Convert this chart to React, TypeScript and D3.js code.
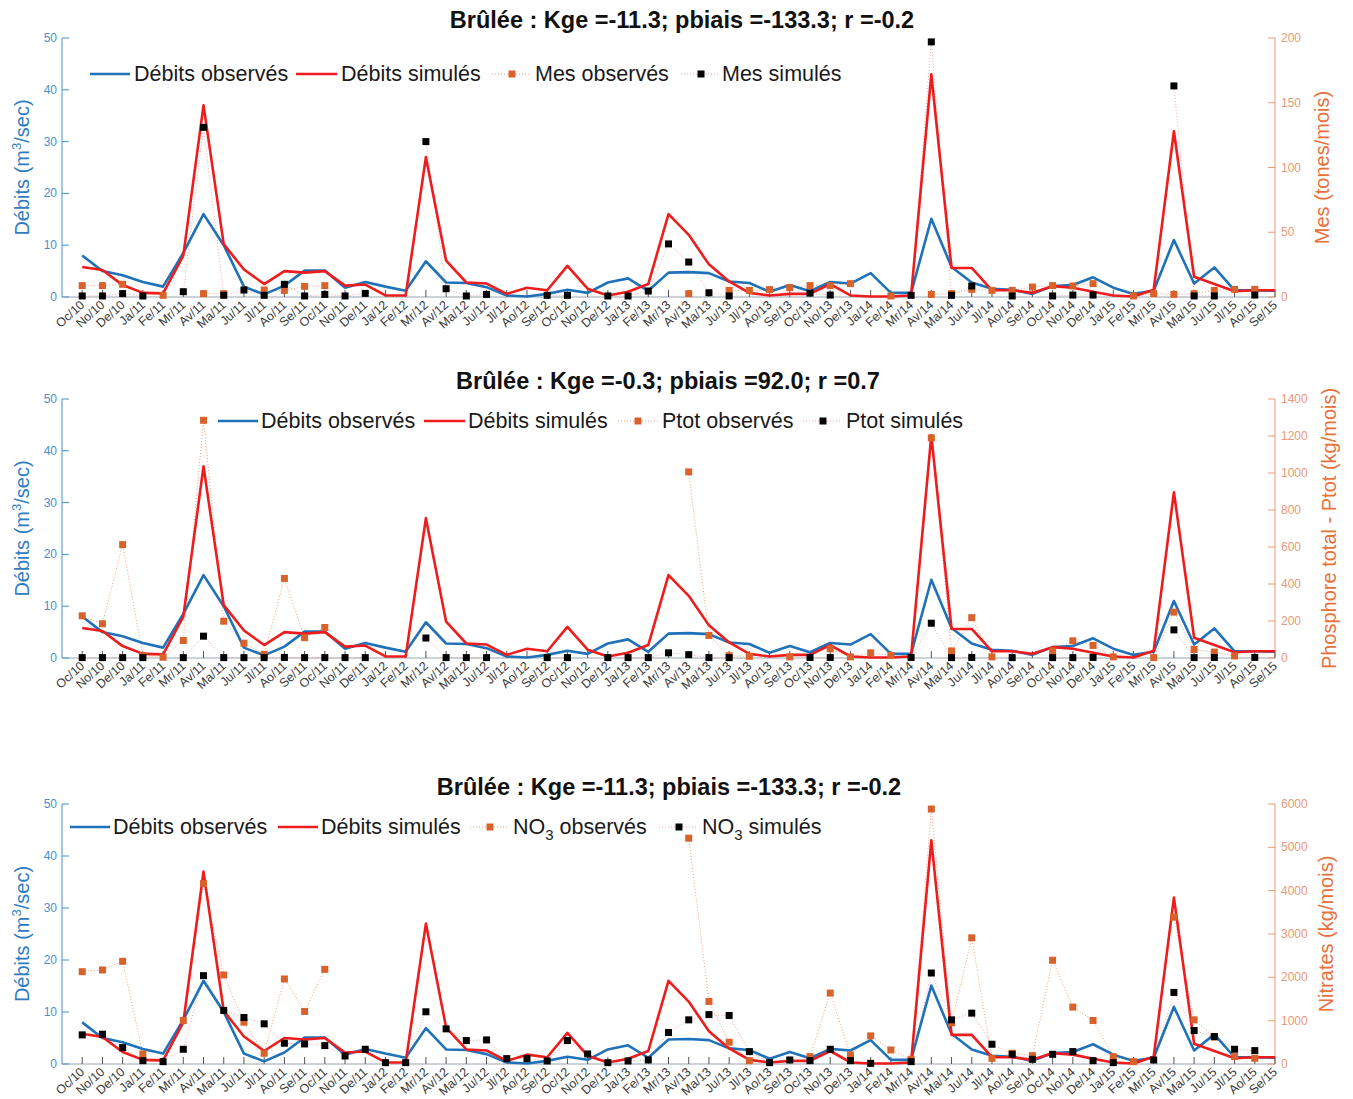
import React from 'react';
import * as d3 from 'd3';

const months = ['Oc/10','No/10','De/10','Ja/11','Fe/11','Mr/11','Av/11','Ma/11','Ju/11','Jl/11','Ao/11','Se/11','Oc/11','No/11','De/11','Ja/12','Fe/12','Mr/12','Av/12','Ma/12','Ju/12','Jl/12','Ao/12','Se/12','Oc/12','No/12','De/12','Ja/13','Fe/13','Mr/13','Av/13','Ma/13','Ju/13','Jl/13','Ao/13','Se/13','Oc/13','No/13','De/13','Ja/14','Fe/14','Mr/14','Av/14','Ma/14','Ju/14','Jl/14','Ao/14','Se/14','Oc/14','No/14','De/14','Ja/15','Fe/15','Mr/15','Av/15','Ma/15','Ju/15','Jl/15','Ao/15','Se/15'];

const debitsObserves = [8.0,5.0,4.2,2.9,2.0,8.5,16.0,10.0,2.0,0.5,2.2,5.1,5.1,1.8,2.9,2.0,1.2,6.9,2.8,2.7,1.9,0.3,0.1,0.6,1.4,0.8,2.8,3.6,1.2,4.7,4.8,4.6,3.0,2.7,1.0,2.3,1.1,2.9,2.6,4.6,0.8,0.8,15.1,5.8,2.8,1.6,1.4,0.6,2.1,2.3,3.8,1.8,0.6,1.2,11.0,2.6,5.7,1.3,1.3,1.2];
const debitsSimules = [5.8,5.2,2.3,0.8,0.7,8.0,37.0,10.2,5.3,2.5,5.0,4.7,5.0,2.2,2.4,0.3,0.3,27.0,7.0,2.8,2.6,0.6,1.8,1.3,6.0,1.6,0.3,1.0,2.5,16.0,12.0,6.3,3.0,0.8,0.3,0.6,0.6,2.5,0.3,0.1,0.1,0.3,43.0,5.6,5.6,1.3,1.3,0.8,2.1,1.8,1.0,0.3,0.1,1.4,32.0,3.9,2.5,1.1,1.3,1.3];

const N = null;
const mesObserves = [8.8,8.8,9.8,N,1.3,N,2.6,2.6,N,5.4,5.1,8.2,8.8,N,N,N,N,N,N,N,N,N,N,N,N,N,N,N,N,N,2.6,N,5.1,5.1,5.7,7.2,8.8,8.8,10.3,N,0.8,N,2.0,2.6,5.9,5.1,5.1,7.7,8.8,8.5,10.3,N,0.8,2.6,2.0,2.6,5.1,5.9,5.9,N];
const mesSimules = [0.8,0.8,2.6,0.8,N,4.1,131,1.3,5.4,1.3,9.8,0.8,2.0,0.8,2.8,N,N,120,6.4,0.8,2.0,N,N,1.3,1.3,N,0.8,0.8,4.6,41,27,3.3,0.8,N,N,N,3.0,1.5,N,N,N,1.3,197,1.3,8.5,N,0.8,N,0.8,1.5,1.5,N,N,N,163,0.8,0.8,N,1.5,N];
const ptotObserves = [228,185,613,13,4,95,1285,199,80,20,430,110,165,N,N,N,N,N,N,N,N,N,N,N,N,N,N,N,N,N,1006,122,12,9,N,6,N,50,6,28,14,N,1190,38,218,6,N,N,38,93,68,6,N,2,248,46,32,11,N,N];
const ptotSimules = [2,2,2,2,N,2,118,2,2,2,3,2,2,2,2,N,N,108,2,2,2,N,N,2,2,N,2,2,2,28,18,2,2,N,N,N,3,3,N,N,N,3,188,2,3,N,2,N,2,2,3,N,N,N,152,2,3,N,3,N];
const no3Observes = [2130,2170,2370,232,N,1004,4163,2054,965,247,1962,1213,2185,N,N,N,N,N,N,N,N,N,N,N,N,N,N,N,N,N,5212,1444,502,77,N,N,170,1637,208,649,324,108,5884,950,2911,131,247,193,2394,1313,1004,170,54,N,3390,1019,620,170,131,N];
const no3Simules = [672,687,378,77,54,340,2039,1236,1073,927,479,463,425,185,340,31,31,1205,811,541,556,124,124,70,541,232,31,70,93,726,1019,1140,1120,286,31,93,77,340,77,15,N,54,2100,1019,1174,456,224,108,224,286,77,31,N,93,1652,772,633,340,309,N];

const leftTicks = [0, 10, 20, 30, 40, 50];
const mesTicks = [0, 50, 100, 150, 200];
const ptotTicks = [0, 200, 400, 600, 800, 1000, 1200, 1400];
const no3Ticks = [0, 1000, 2000, 3000, 4000, 5000, 6000];
const titles = [
  'Brûlée : Kge =-11.3; pbiais =-133.3; r =-0.2',
  'Brûlée : Kge =-0.3; pbiais =92.0; r =0.7',
  'Brûlée : Kge =-11.3; pbiais =-133.3; r =-0.2',
];

const W = 1353, H = 1099;
const X0 = 62, X1 = 1275;
const BLUE = '#1f72b8';
const RED = '#ee1c1c';
const ORANGE = '#d9622b';
const LEFT_C = '#4a8fcb';
const RIGHT_C = '#e89a78';
const RIGHT_LABEL = '#e8703a';
const FONT = '"Liberation Sans", Arial, sans-serif';

type Panel = {
  top: number; bottom: number; titleY: number; titleX: number; title: string;
  rightTicks: number[]; obs: (number | null)[]; sim: (number | null)[];
  rightLabel: string; rightLabelX: number; species: string; sub?: string;
  legY: number; leg: number[];
};

const panels: Panel[] = [
  { top: 38, bottom: 297, titleY: 28, titleX: 682, title: titles[0], rightTicks: mesTicks, obs: mesObserves, sim: mesSimules,
    rightLabel: 'Mes (tones/mois)', rightLabelX: 1329, species: 'Mes', legY: 74, leg: [90, 130, 134, 296, 337, 341, 512, 535, 701, 722] },
  { top: 399, bottom: 658, titleY: 389, titleX: 668, title: titles[1], rightTicks: ptotTicks, obs: ptotObserves, sim: ptotSimules,
    rightLabel: 'Phosphore total - Ptot (kg/mois)', rightLabelX: 1336, species: 'Ptot', legY: 421, leg: [218, 258, 261, 424, 465, 468, 638, 662, 823, 846] },
  { top: 804, bottom: 1064, titleY: 795, titleX: 669, title: titles[2], rightTicks: no3Ticks, obs: no3Observes, sim: no3Simules,
    rightLabel: 'Nitrates (kg/mois)', rightLabelX: 1333, species: 'NO', sub: '3', legY: 827, leg: [70, 110, 113, 278, 318, 321, 490, 513, 679, 702] },
];

const x = d3.scaleLinear().domain([0, 60]).range([X0, X1]);

function Square({ cx, cy, color, s = 7 }: { cx: number; cy: number; color: string; s?: number }) {
  return <rect x={cx - s / 2} y={cy - s / 2} width={s} height={s} fill={color} />;
}

function PanelView({ p }: { p: Panel }) {
  const yL = d3.scaleLinear().domain([0, 50]).range([p.bottom, p.top]);
  const rMax = p.rightTicks[p.rightTicks.length - 1];
  const yR = d3.scaleLinear().domain([0, rMax]).range([p.bottom, p.top]);
  const lineL = d3.line<number>().x((_, i) => x(i + 1)).y(d => yL(d));
  const lineR = d3.line<number | null>().defined(d => d != null).x((_, i) => x(i + 1)).y(d => yR(d as number));
  const midY = (p.top + p.bottom) / 2;
  const L = p.leg;
  const ty = p.legY + 7;
  const speciesText = (suffix: string) => (
    <>
      {p.species}
      {p.sub ? <tspan dy={6} fontSize={15}>{p.sub}</tspan> : null}
      {p.sub ? <tspan dy={-6}>{suffix}</tspan> : suffix}
    </>
  );
  return (
    <g>
      <text x={p.titleX} y={p.titleY} textAnchor="middle" fontSize={23.5} fontWeight="bold" fill="#111" fontFamily={FONT}>{p.title}</text>
      <line x1={X0} x2={X0} y1={p.top} y2={p.bottom} stroke={LEFT_C} strokeWidth={1} />
      <line x1={X1} x2={X1} y1={p.top} y2={p.bottom} stroke={RIGHT_C} strokeWidth={1} />
      <line x1={X0} x2={X1} y1={p.bottom} y2={p.bottom} stroke="#9aa4b0" strokeWidth={1} />
      {leftTicks.map(t => (
        <g key={'l' + t}>
          <line x1={X0} x2={X0 + 7} y1={yL(t)} y2={yL(t)} stroke={LEFT_C} />
          <text x={X0 - 5} y={yL(t) + 4} textAnchor="end" fontSize={12} fill={LEFT_C} fontFamily={FONT}>{t}</text>
        </g>
      ))}
      {p.rightTicks.map(t => (
        <g key={'r' + t}>
          <line x1={X1 - 7} x2={X1} y1={yR(t)} y2={yR(t)} stroke={RIGHT_C} />
          <text x={X1 + 6} y={yR(t) + 4} textAnchor="start" fontSize={12} fill={RIGHT_C} fontFamily={FONT}>{t}</text>
        </g>
      ))}
      {months.map((m, i) => (
        <g key={m}>
          <line x1={x(i + 1)} x2={x(i + 1)} y1={p.bottom} y2={p.bottom - 7} stroke="#555" strokeWidth={1} />
          <text transform={`translate(${x(i + 1) + 3},${p.bottom + 9}) rotate(-42)`} textAnchor="end" fontSize={12.5} fill="#3a3a3a" fontFamily={FONT}>{m}</text>
        </g>
      ))}
      <text transform={`translate(29,${midY}) rotate(-90)`} textAnchor="middle" fontSize={20} fill="#2e7dc3" fontFamily={FONT}>
        Débits (m<tspan dy={-8} fontSize={13}>3</tspan><tspan dy={8}>/sec)</tspan>
      </text>
      <text transform={`translate(${p.rightLabelX},${midY}) rotate(-90)`} textAnchor="middle" fontSize={20} fill={RIGHT_LABEL} fontFamily={FONT}>{p.rightLabel}</text>
      <path d={lineR(p.obs) || ''} fill="none" stroke="#f2a07c" strokeWidth={1} strokeDasharray="1,2" />
      <path d={lineR(p.sim) || ''} fill="none" stroke="#f4a6a6" strokeWidth={1} strokeDasharray="1,2" />
      <path d={lineL(debitsObserves) || ''} fill="none" stroke={BLUE} strokeWidth={2.6} strokeLinejoin="round" />
      <path d={lineL(debitsSimules) || ''} fill="none" stroke={RED} strokeWidth={2.6} strokeLinejoin="round" />
      {p.obs.map((v, i) => v == null ? null : <Square key={'o' + i} cx={x(i + 1)} cy={yR(v)} color={ORANGE} />)}
      {p.sim.map((v, i) => v == null ? null : <Square key={'s' + i} cx={x(i + 1)} cy={yR(v)} color="#000" />)}
      <line x1={L[0]} x2={L[1]} y1={p.legY} y2={p.legY} stroke={BLUE} strokeWidth={2.6} />
      <text x={L[2]} y={ty} fontSize={21.5} fill="#1a1a1a" fontFamily={FONT}>Débits observés</text>
      <line x1={L[3]} x2={L[4]} y1={p.legY} y2={p.legY} stroke={RED} strokeWidth={2.6} />
      <text x={L[5]} y={ty} fontSize={21.5} fill="#1a1a1a" fontFamily={FONT}>Débits simulés</text>
      <line x1={L[6] - 20} x2={L[7] - 4} y1={p.legY} y2={p.legY} stroke="#f2a07c" strokeDasharray="1,2" />
      <Square cx={L[6]} cy={p.legY} color={ORANGE} />
      <text x={L[7]} y={ty} fontSize={21.5} fill="#1a1a1a" fontFamily={FONT}>{speciesText(' observés')}</text>
      <line x1={L[8] - 20} x2={L[9] - 4} y1={p.legY} y2={p.legY} stroke="#f4a6a6" strokeDasharray="1,2" />
      <Square cx={L[8]} cy={p.legY} color="#000" />
      <text x={L[9]} y={ty} fontSize={21.5} fill="#1a1a1a" fontFamily={FONT}>{speciesText(' simulés')}</text>
    </g>
  );
}

export default function App() {
  return (
    <svg width={W} height={H} style={{ position: 'absolute', left: 0, top: 0, background: '#fff' }}>
      <rect width={W} height={H} fill="#fff" />
      {panels.map((p, i) => <PanelView key={i} p={p} />)}
    </svg>
  );
}
